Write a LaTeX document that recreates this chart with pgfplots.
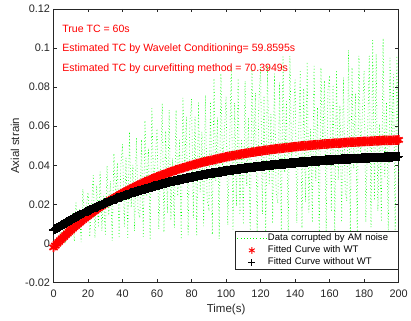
\documentclass[border=0pt]{standalone}
\usepackage{pgfplots}
\pgfplotsset{compat=1.18}
\usepackage{fontspec}
\setmainfont{Liberation Sans}
\definecolor{axgray}{rgb}{0.15,0.15,0.15}
\definecolor{mgreen}{rgb}{0,1,0}
\pgfplotsset{
  mylineleg/.style={legend image code/.code={\draw[##1] (0bp,0bp) -- (29bp,0bp);}},
  mymarkleg/.style={legend image code/.code={\draw[mark repeat=2,mark phase=2,##1,mark size=3.4bp,mark options={line width=0.9bp}] plot coordinates {(0bp,0bp)(14.5bp,0bp)(29bp,0bp)};}},
  redfit/.style={red, only marks, mark=asterisk, mark size=4.8bp, mark options={line width=1.8bp}},
  blackfit/.style={black, only marks, mark=+, mark size=4.8bp, mark options={line width=1.8bp}},
}
\begin{document}
\begin{tikzpicture}
\begin{axis}[
  name=ax,
  scale only axis,
  width=348bp, height=276bp,
  xmin=0, xmax=200, ymin=-0.02, ymax=0.12,
  xtick={0,20,40,60,80,100,120,140,160,180,200},
  xticklabels={0,20,40,60,80,100,120,140,160,180,200},
  ytick={-0.02,0,0.02,0.04,0.06,0.08,0.1,0.12},
  yticklabels={-0.02,0,0.02,0.04,0.06,0.08,0.1,0.12},
  tick align=inside,
  major tick length=3.5bp,
  axis line style={axgray, line width=0.5bp},
  every tick/.style={axgray, line width=0.5bp},
  tick label style={font=\fontsize{11bp}{13bp}\selectfont, text=axgray},
  xticklabel style={yshift=-4bp},
  label style={font=\fontsize{11.6bp}{13bp}\selectfont, text=axgray},
  xlabel={Time(s)},
  ylabel={Axial strain},
  xlabel style={at={(axis description cs:0.5,-0.098)}, anchor=center},
  ylabel style={at={(axis description cs:-0.112,0.5)}, anchor=center},
  legend cell align=left,
  legend style={at={(axis description cs:1,0.047)}, anchor=south east,
    font=\fontsize{9.6bp}{11bp}\selectfont, draw=axgray, line width=0.5bp,
    inner xsep=2bp, inner ysep=0.8bp, row sep=0pt,
    nodes={inner sep=1.5bp, text height=7bp, text depth=2.3bp, text width=128bp, text=black}},
]
\addplot[mgreen, line width=0.55bp, dash pattern=on 0.8bp off 2.4bp, mylineleg]
coordinates {
(0,0.0000)(1,0.0003)(2,0.0029)(3,0.0003)(4,0.0070)(5,0.0028)(6,0.0072)(7,0.0013)(8,0.0122)(9,0.0041)
(10,0.0036)(11,0.0155)(12,0.0011)(13,0.0209)(14,0.0085)(15,0.0179)(16,0.0007)(17,0.0279)(18,0.0120)(19,0.0188)
(20,0.0262)(21,0.0034)(22,0.0178)(23,0.0350)(24,0.0029)(25,0.0297)(26,0.0082)(27,0.0368)(28,0.0065)(29,0.0244)
(30,0.0046)(31,0.0398)(32,0.0144)(33,0.0319)(34,0.0013)(35,0.0461)(36,0.0235)(37,0.0414)(38,0.0027)(39,0.0402)
(40,0.0508)(41,0.0086)(42,0.0438)(43,0.0030)(44,0.0572)(45,0.0184)(46,0.0403)(47,0.0063)(48,0.0542)(49,0.0162)
(50,0.0131)(51,0.0531)(52,0.0034)(53,0.0629)(54,0.0241)(55,0.0487)(56,0.0018)(57,0.0692)(58,0.0287)(59,0.0436)
(60,0.0587)(61,0.0074)(62,0.0374)(63,0.0716)(64,0.0057)(65,0.0576)(66,0.0155)(67,0.0683)(68,0.0118)(69,0.0436)
(70,0.0080)(71,0.0683)(72,0.0243)(73,0.0530)(74,0.0021)(75,0.0745)(76,0.0375)(77,0.0649)(78,0.0042)(79,0.0616)
(80,0.0740)(81,0.0129)(82,0.0648)(83,0.0043)(84,0.0721)(85,0.0263)(86,0.0573)(87,0.0089)(88,0.0758)(89,0.0224)
(90,0.0180)(91,0.0725)(92,0.0046)(93,0.0845)(94,0.0321)(95,0.0645)(96,0.0023)(97,0.0870)(98,0.0374)(99,0.0563)
(100,0.0752)(101,0.0094)(102,0.0474)(103,0.0904)(104,0.0072)(105,0.0719)(106,0.0192)(107,0.0844)(108,0.0145)(109,0.0535)
(110,0.0097)(111,0.0831)(112,0.0294)(113,0.0640)(114,0.0025)(115,0.0891)(116,0.0446)(117,0.0770)(118,0.0050)(119,0.0725)
(120,0.0904)(121,0.0151)(122,0.0756)(123,0.0051)(124,0.0910)(125,0.0305)(126,0.0662)(127,0.0102)(128,0.0869)(129,0.0256)
(130,0.0206)(131,0.0824)(132,0.0052)(133,0.0956)(134,0.0363)(135,0.0727)(136,0.0026)(137,0.0960)(138,0.0418)(139,0.0628)
(140,0.0838)(141,0.0105)(142,0.0526)(143,0.0880)(144,0.0079)(145,0.0794)(146,0.0212)(147,0.0929)(148,0.0159)(149,0.0585)
(150,0.0107)(151,0.0908)(152,0.0320)(153,0.0696)(154,0.0027)(155,0.0900)(156,0.0483)(157,0.0834)(158,0.0054)(159,0.0782)
(160,0.0860)(161,0.0162)(162,0.0812)(163,0.0054)(164,0.0880)(165,0.0326)(166,0.0707)(167,0.0109)(168,0.0850)(169,0.0273)
(170,0.0218)(171,0.0990)(172,0.0055)(173,0.0900)(174,0.0384)(175,0.0767)(176,0.0027)(177,0.0960)(178,0.0440)(179,0.0660)
(180,0.0882)(181,0.0110)(182,0.0552)(183,0.0960)(184,0.0083)(185,0.1040)(186,0.0221)(187,0.0970)(188,0.0166)(189,0.0611)
(190,0.0111)(191,0.1050)(192,0.0334)(193,0.0723)(194,0.0028)(195,0.0950)(196,0.0502)(197,0.0865)(198,0.0056)(199,0.0960)
(200,0.0300)
};
\addlegendentry{Data corrupted by AM noise}
\addplot[redfit, mymarkleg]
coordinates {
(0,-0.0020)(2,-0.0001)(4,0.0017)(6,0.0034)(8,0.0051)(10,0.0068)(12,0.0084)(14,0.0099)(16,0.0114)(18,0.0128)
(20,0.0142)(22,0.0155)(24,0.0168)(26,0.0181)(28,0.0193)(30,0.0205)(32,0.0216)(34,0.0227)(36,0.0238)(38,0.0248)
(40,0.0258)(42,0.0267)(44,0.0277)(46,0.0286)(48,0.0294)(50,0.0303)(52,0.0311)(54,0.0319)(56,0.0326)(58,0.0334)
(60,0.0341)(62,0.0348)(64,0.0354)(66,0.0361)(68,0.0367)(70,0.0373)(72,0.0379)(74,0.0384)(76,0.0390)(78,0.0395)
(80,0.0400)(82,0.0405)(84,0.0410)(86,0.0415)(88,0.0419)(90,0.0423)(92,0.0427)(94,0.0431)(96,0.0435)(98,0.0439)
(100,0.0443)(102,0.0446)(104,0.0450)(106,0.0453)(108,0.0456)(110,0.0459)(112,0.0462)(114,0.0465)(116,0.0468)(118,0.0471)
(120,0.0473)(122,0.0476)(124,0.0478)(126,0.0481)(128,0.0483)(130,0.0485)(132,0.0487)(134,0.0489)(136,0.0491)(138,0.0493)
(140,0.0495)(142,0.0497)(144,0.0499)(146,0.0500)(148,0.0502)(150,0.0503)(152,0.0505)(154,0.0506)(156,0.0508)(158,0.0509)
(160,0.0511)(162,0.0512)(164,0.0513)(166,0.0514)(168,0.0516)(170,0.0517)(172,0.0518)(174,0.0519)(176,0.0520)(178,0.0521)
(180,0.0522)(182,0.0523)(184,0.0524)(186,0.0525)(188,0.0525)(190,0.0526)(192,0.0527)(194,0.0528)(196,0.0528)(198,0.0529)
(200,0.0530)
};
\addlegendentry{Fitted Curve with WT}
\addplot[redfit, forget plot]
coordinates {
(1,-0.0011)(3,0.0008)(5,0.0026)(7,0.0043)(9,0.0060)(11,0.0076)(13,0.0091)(15,0.0106)(17,0.0121)(19,0.0135)
(21,0.0149)(23,0.0162)(25,0.0175)(27,0.0187)(29,0.0199)(31,0.0210)(33,0.0222)(35,0.0232)(37,0.0243)(39,0.0253)
(41,0.0263)(43,0.0272)(45,0.0281)(47,0.0290)(49,0.0299)(51,0.0307)(53,0.0315)(55,0.0323)(57,0.0330)(59,0.0337)
(61,0.0344)(63,0.0351)(65,0.0358)(67,0.0364)(69,0.0370)(71,0.0376)(73,0.0382)(75,0.0387)(77,0.0393)(79,0.0398)
(81,0.0403)(83,0.0408)(85,0.0412)(87,0.0417)(89,0.0421)(91,0.0425)(93,0.0429)(95,0.0433)(97,0.0437)(99,0.0441)
(101,0.0445)(103,0.0448)(105,0.0451)(107,0.0455)(109,0.0458)(111,0.0461)(113,0.0464)(115,0.0467)(117,0.0469)(119,0.0472)
(121,0.0474)(123,0.0477)(125,0.0479)(127,0.0482)(129,0.0484)(131,0.0486)(133,0.0488)(135,0.0490)(137,0.0492)(139,0.0494)
(141,0.0496)(143,0.0498)(145,0.0499)(147,0.0501)(149,0.0503)(151,0.0504)(153,0.0506)(155,0.0507)(157,0.0509)(159,0.0510)
(161,0.0511)(163,0.0513)(165,0.0514)(167,0.0515)(169,0.0516)(171,0.0517)(173,0.0518)(175,0.0519)(177,0.0520)(179,0.0521)
(181,0.0522)(183,0.0523)(185,0.0524)(187,0.0525)(189,0.0526)(191,0.0527)(193,0.0527)(195,0.0528)(197,0.0529)(199,0.0529)
};
\addplot[blackfit, mymarkleg]
coordinates {
(0,0.0068)(2,0.0079)(4,0.0090)(6,0.0101)(8,0.0111)(10,0.0121)(12,0.0131)(14,0.0140)(16,0.0149)(18,0.0158)
(20,0.0167)(22,0.0175)(24,0.0184)(26,0.0192)(28,0.0199)(30,0.0207)(32,0.0214)(34,0.0221)(36,0.0228)(38,0.0235)
(40,0.0241)(42,0.0248)(44,0.0254)(46,0.0260)(48,0.0266)(50,0.0271)(52,0.0277)(54,0.0282)(56,0.0287)(58,0.0293)
(60,0.0297)(62,0.0302)(64,0.0307)(66,0.0311)(68,0.0316)(70,0.0320)(72,0.0324)(74,0.0328)(76,0.0332)(78,0.0336)
(80,0.0340)(82,0.0343)(84,0.0347)(86,0.0350)(88,0.0353)(90,0.0357)(92,0.0360)(94,0.0363)(96,0.0366)(98,0.0369)
(100,0.0371)(102,0.0374)(104,0.0377)(106,0.0379)(108,0.0382)(110,0.0384)(112,0.0387)(114,0.0389)(116,0.0391)(118,0.0393)
(120,0.0395)(122,0.0397)(124,0.0399)(126,0.0401)(128,0.0403)(130,0.0405)(132,0.0407)(134,0.0408)(136,0.0410)(138,0.0412)
(140,0.0413)(142,0.0415)(144,0.0416)(146,0.0418)(148,0.0419)(150,0.0421)(152,0.0422)(154,0.0423)(156,0.0424)(158,0.0426)
(160,0.0427)(162,0.0428)(164,0.0429)(166,0.0430)(168,0.0431)(170,0.0432)(172,0.0433)(174,0.0434)(176,0.0435)(178,0.0436)
(180,0.0437)(182,0.0438)(184,0.0439)(186,0.0440)(188,0.0440)(190,0.0441)(192,0.0442)(194,0.0443)(196,0.0443)(198,0.0444)
(200,0.0445)
};
\addlegendentry{Fitted Curve without WT}
\addplot[blackfit, forget plot]
coordinates {
(1,0.0074)(3,0.0085)(5,0.0095)(7,0.0106)(9,0.0116)(11,0.0126)(13,0.0135)(15,0.0145)(17,0.0154)(19,0.0163)
(21,0.0171)(23,0.0180)(25,0.0188)(27,0.0195)(29,0.0203)(31,0.0210)(33,0.0218)(35,0.0225)(37,0.0232)(39,0.0238)
(41,0.0245)(43,0.0251)(45,0.0257)(47,0.0263)(49,0.0269)(51,0.0274)(53,0.0280)(55,0.0285)(57,0.0290)(59,0.0295)
(61,0.0300)(63,0.0305)(65,0.0309)(67,0.0314)(69,0.0318)(71,0.0322)(73,0.0326)(75,0.0330)(77,0.0334)(79,0.0338)
(81,0.0341)(83,0.0345)(85,0.0348)(87,0.0352)(89,0.0355)(91,0.0358)(93,0.0361)(95,0.0364)(97,0.0367)(99,0.0370)
(101,0.0373)(103,0.0375)(105,0.0378)(107,0.0381)(109,0.0383)(111,0.0385)(113,0.0388)(115,0.0390)(117,0.0392)(119,0.0394)
(121,0.0396)(123,0.0398)(125,0.0400)(127,0.0402)(129,0.0404)(131,0.0406)(133,0.0408)(135,0.0409)(137,0.0411)(139,0.0412)
(141,0.0414)(143,0.0416)(145,0.0417)(147,0.0418)(149,0.0420)(151,0.0421)(153,0.0422)(155,0.0424)(157,0.0425)(159,0.0426)
(161,0.0427)(163,0.0429)(165,0.0430)(167,0.0431)(169,0.0432)(171,0.0433)(173,0.0434)(175,0.0435)(177,0.0436)(179,0.0437)
(181,0.0437)(183,0.0438)(185,0.0439)(187,0.0440)(189,0.0441)(191,0.0441)(193,0.0442)(195,0.0443)(197,0.0444)(199,0.0444)
};
\node[anchor=west, inner sep=0pt, text=red, text height=7.5bp, text depth=0pt,
  font=\fontsize{10.65bp}{12bp}\selectfont] at (axis cs:5,0.11) {True TC = 60s};
\node[anchor=west, inner sep=0pt, text=red, text height=7.5bp, text depth=0pt,
  font=\fontsize{10.65bp}{12bp}\selectfont] at (axis cs:5,0.10) {Estimated TC by Wavelet Conditioning= 59.8595s};
\node[anchor=west, inner sep=0pt, text=red, text height=7.5bp, text depth=0pt,
  font=\fontsize{10.65bp}{12bp}\selectfont] at (axis cs:5,0.09) {Estimated TC by curvefitting method = 70.3949s};
\end{axis}
\path ([shift={(-54bp,-38bp)}]ax.south west) rectangle ([shift={(9bp,9bp)}]ax.north east);
\end{tikzpicture}
\end{document}
